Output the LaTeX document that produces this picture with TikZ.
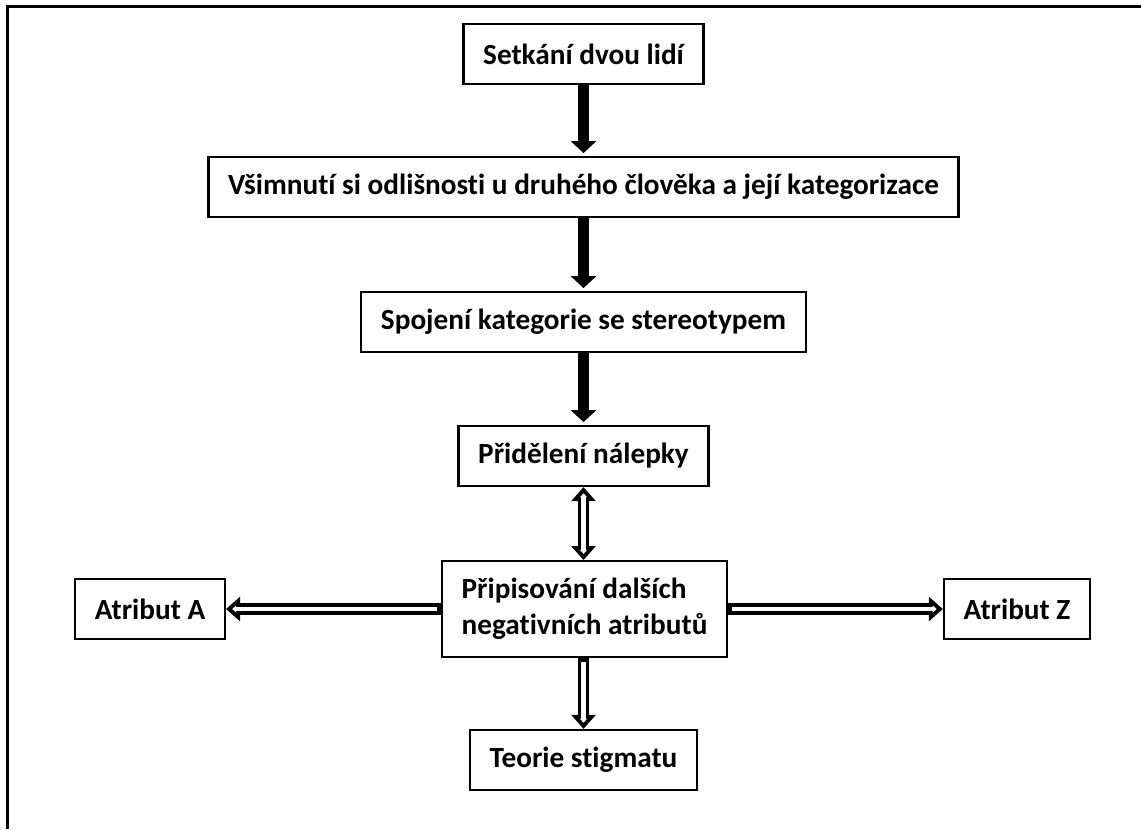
\documentclass[tikz,border=0pt]{standalone}
\usepackage{fontspec}
\setmainfont{Carlito}[Ligatures={NoCommon,NoContextual}]
\usetikzlibrary{arrows.meta}
\begin{document}
\begin{tikzpicture}[x=0.025cm,y=-0.025cm,
  box/.style={draw=black,line width=1.6pt,fill=white,font=\fontsize{20.8}{25.6}\selectfont\bfseries,inner xsep=14pt,inner ysep=0pt,minimum height=42.7pt},
  blackarrow/.style={line width=7.8pt,-{Triangle[width=17.8pt,length=8.5pt]},shorten >=2pt},
  hollowarrow/.style={line width=8.5pt,-{Triangle[width=17pt,length=10pt]},
    postaction={draw=white,line width=2.9pt,-{Triangle[width=4.8pt,length=2.8pt]},shorten >=4.4pt,shorten <=2.8pt}},
  hollowboth/.style={line width=8.5pt,{Triangle[width=17pt,length=10pt]}-{Triangle[width=17pt,length=10pt]},
    postaction={draw=white,line width=2.9pt,{Triangle[width=4.8pt,length=2.8pt]}-{Triangle[width=4.8pt,length=2.8pt]},shorten >=4.4pt,shorten <=4.4pt}}]
\useasboundingbox (0,0) rectangle (1141,829);
\draw[line width=2.1pt] (7.5,829) -- (7.5,6.5) -- (1141,6.5);
% the chain of steps
\node[box] (meet) at (583.5,54) {Setkání dvou lidí};
\node[box] (notice) at (583.5,187) {Všimnutí si odlišnosti u druhého člověka a její kategorizace};
\node[box] (link) at (583.5,322) {Spojení kategorie se stereotypem};
\node[box] (label) at (583.5,456) {Přidělení nálepky};
\node[box,align=left,minimum height=68pt] (attrib) at (584.5,609) {Připisování dalších\\negativních atributů};
\node[box] (atrA) at (150,609) {Atribut A};
\node[box] (atrZ) at (1017,609) {Atribut Z};
\node[box] (stigma) at (583.5,760) {Teorie stigmatu};
% arrows
\draw[blackarrow] (meet) -- (notice);
\draw[blackarrow] (notice) -- (link);
\draw[blackarrow] (link) -- (label);
\draw[hollowboth] (label) -- (attrib.north -| label);
\draw[hollowarrow] (attrib) -- (atrA);
\draw[hollowarrow] (attrib) -- (atrZ);
\draw[hollowarrow] (attrib.south -| stigma) -- (stigma);
\end{tikzpicture}
\end{document}
